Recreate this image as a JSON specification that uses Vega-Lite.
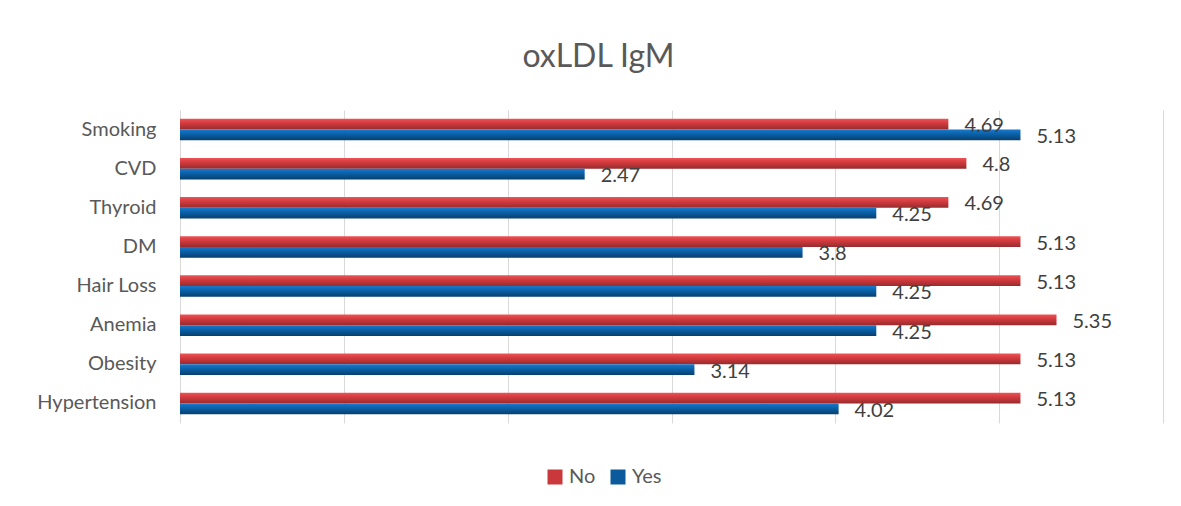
{
  "$schema": "https://vega.github.io/schema/vega-lite/v6.json",
  "autosize": {"type": "none"},
  "width": 983,
  "height": 313,
  "padding": {"left": 180, "top": 110, "right": 18, "bottom": 83},
  "background": "white",
  "title": {
    "text": "oxLDL IgM",
    "font": "Lato",
    "fontSize": 32,
    "fontWeight": "normal",
    "color": "#595959",
    "anchor": "middle",
    "dx": -73,
    "baseline": "alphabetic",
    "offset": 11
  },
  "config": {
    "view": {"stroke": null},
    "font": "Lato"
  },
  "data": {
    "values": [
      {"category": "Smoking", "series": "No", "value": 4.69},
      {"category": "Smoking", "series": "Yes", "value": 5.13},
      {"category": "CVD", "series": "No", "value": 4.8},
      {"category": "CVD", "series": "Yes", "value": 2.47},
      {"category": "Thyroid", "series": "No", "value": 4.69},
      {"category": "Thyroid", "series": "Yes", "value": 4.25},
      {"category": "DM", "series": "No", "value": 5.13},
      {"category": "DM", "series": "Yes", "value": 3.8},
      {"category": "Hair Loss", "series": "No", "value": 5.13},
      {"category": "Hair Loss", "series": "Yes", "value": 4.25},
      {"category": "Anemia", "series": "No", "value": 5.35},
      {"category": "Anemia", "series": "Yes", "value": 4.25},
      {"category": "Obesity", "series": "No", "value": 5.13},
      {"category": "Obesity", "series": "Yes", "value": 3.14},
      {"category": "Hypertension", "series": "No", "value": 5.13},
      {"category": "Hypertension", "series": "Yes", "value": 4.02}
    ]
  },
  "encoding": {
    "y": {
      "field": "category",
      "type": "nominal",
      "sort": ["Smoking", "CVD", "Thyroid", "DM", "Hair Loss", "Anemia", "Obesity", "Hypertension"],
      "scale": {"paddingInner": 0.45, "paddingOuter": 0.225},
      "axis": {
        "title": null,
        "ticks": false,
        "domain": false,
        "labelFont": "Lato",
        "labelFontSize": 20,
        "labelColor": "#595959",
        "labelPadding": 24
      }
    },
    "yOffset": {"field": "series", "type": "nominal", "sort": ["No", "Yes"]},
    "x": {
      "field": "value",
      "type": "quantitative",
      "scale": {"domain": [0, 6], "nice": false},
      "axis": {
        "title": null,
        "labels": false,
        "ticks": false,
        "domain": false,
        "values": [0, 1, 2, 3, 4, 5, 6],
        "grid": true,
        "gridColor": "#D9D9D9",
        "gridWidth": 1
      }
    }
  },
  "layer": [
    {
      "mark": {"type": "bar"},
      "encoding": {
        "color": {
          "condition": {
            "test": "datum.series === 'No'",
            "value": {"gradient": "linear", "x1": 0, "y1": 0, "x2": 0, "y2": 1, "stops": [
              {"offset": 0, "color": "#EE5356"},
              {"offset": 0.4, "color": "#D43B3E"},
              {"offset": 1, "color": "#962B2E"}
            ]}
          },
          "value": {"gradient": "linear", "x1": 0, "y1": 0, "x2": 0, "y2": 1, "stops": [
            {"offset": 0, "color": "#1A79CC"},
            {"offset": 0.4, "color": "#0A62AA"},
            {"offset": 1, "color": "#073F6E"}
          ]}
        }
      }
    },
    {
      "mark": {"type": "square", "opacity": 0},
      "encoding": {
        "color": {
          "field": "series",
          "type": "nominal",
          "scale": {"domain": ["No", "Yes"], "range": ["#C9383B", "#0A5A9C"]},
          "legend": {
            "title": null,
            "orient": "none",
            "direction": "horizontal",
            "legendX": 365,
            "legendY": 357,
            "symbolType": "square",
            "symbolSize": 225,
            "symbolOpacity": 1,
            "symbolStrokeWidth": 0,
            "labelFont": "Lato",
            "labelFontSize": 20,
            "labelColor": "#595959",
            "labelOffset": 4,
            "columnPadding": 12
          }
        }
      }
    },
    {
      "mark": {"type": "text", "align": "left", "baseline": "middle", "dx": 16, "dy": 2, "font": "Lato", "fontSize": 20, "color": "#404040"},
      "encoding": {
        "text": {"field": "value", "type": "quantitative"}
      }
    }
  ]
}
